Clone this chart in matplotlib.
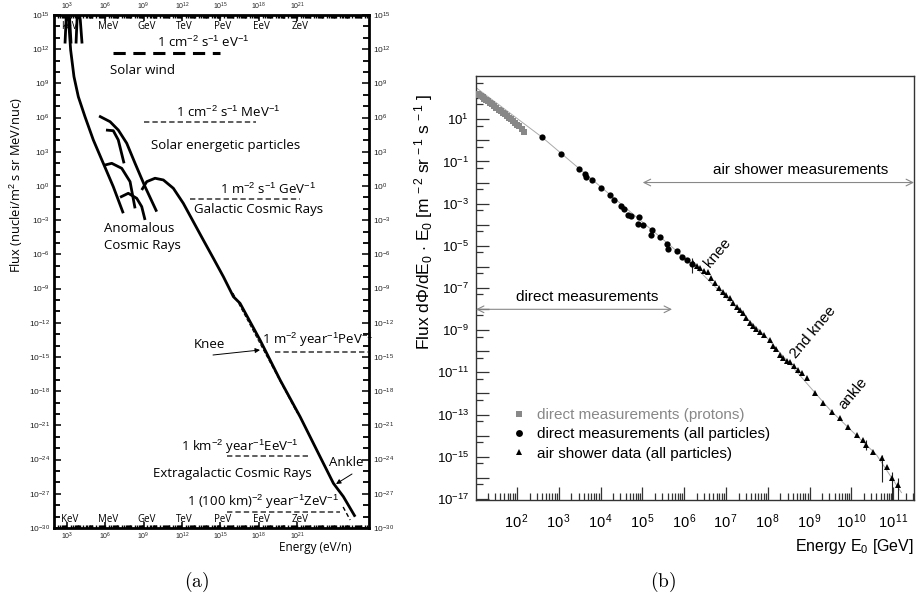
import numpy as np
import matplotlib.pyplot as plt
from matplotlib.ticker import FixedLocator, FuncFormatter, NullFormatter, LogLocator

plt.rcParams['font.family'] = ['Liberation Sans', 'DejaVu Sans']
plt.rcParams['mathtext.fontset'] = 'custom'
plt.rcParams['mathtext.rm'] = 'Liberation Sans'
plt.rcParams['mathtext.it'] = 'Liberation Sans:italic'
plt.rcParams['mathtext.bf'] = 'Liberation Sans:bold'

W, H = 918, 599

# ---------------- panel (a): log10 energy (eV/n) / log10 flux ----------------
main_lx = [3.12, 3.30, 3.56, 3.90, 4.42, 5.07, 5.85, 6.63, 7.41]
main_ly = [14.85, 11.93, 9.59, 7.83, 6.08, 4.04, 1.99, -0.06, -2.39]
spike1_lx = [2.86, 2.95, 3.09, 3.22, 3.33]
spike1_ly = [12.5, 14.7, 15.3, 14.7, 12.5]
spike2_lx = [3.72, 3.80, 3.90, 4.05, 4.19]
spike2_ly = [12.5, 14.6, 15.3, 14.6, 12.5]
sep1_lx = [5.52, 6.38, 7.02, 7.68, 8.33, 9.11, 10.02]
sep1_ly = [6.14, 5.64, 4.91, 3.75, 1.99, -0.06, -2.25]
sep2_lx = [6.06, 6.63, 7.02, 7.47]
sep2_ly = [4.91, 4.85, 4.04, 1.99]
acr1_lx = [5.98, 6.51, 7.29, 7.94, 8.33]
acr1_ly = [1.84, 1.99, 1.55, 0.38, -1.96]
acr2_lx = [7.16, 7.80, 8.46, 8.85, 9.11]
acr2_ly = [-0.99, -0.64, -1.08, -1.81, -2.98]
gcr_lx = [8.85, 9.24, 9.89, 10.54, 11.32, 12.10, 12.88, 13.66, 14.45, 15.23,
          16.01, 16.53, 18.09, 19.66, 21.22, 22.78, 23.82, 24.60, 25.52]
gcr_ly = [-0.35, 0.38, 0.68, 0.53, -0.20, -1.52, -3.13, -4.74, -6.35, -7.96,
          -9.71, -10.29, -13.51, -17.02, -20.24, -23.75, -26.08, -27.25, -29.01]
knee_ext_lx = [15.98, 20.98]
knee_ext_ly = [-9.39, -19.91]
ankle_ext_lx = [24.58, 25.13]
ankle_ext_ly = [-28.16, -29.3]

# reference flux levels: (lx start, lx end, ly)
ref_solar_wind = (6.61, 14.97, 11.67)
ref_sep = (9.03, 17.78, 5.61)
ref_gcr = (12.63, 21.22, -1.14)
ref_knee = (19.27, 26.53, -14.56)
ref_eev = (15.52, 22.0, -23.68)
ref_zev = (15.52, 24.34, -28.6)

unit_names = ['keV', 'MeV', 'GeV', 'TeV', 'PeV', 'EeV', 'ZeV']
unit_exps = [3, 6, 9, 12, 15, 18, 21]

# ---------------- panel (b): log10 E0 (GeV) / log10 flux*E0 ----------------
prot_lx = [1.07, 1.10, 1.14, 1.18, 1.22, 1.27, 1.31, 1.36, 1.41, 1.46, 1.51, 1.56,
           1.61, 1.66, 1.71, 1.76, 1.81, 1.86, 1.91, 1.96, 2.01, 2.06, 2.11, 2.17]
prot_ly = [2.18, 2.14, 2.10, 2.05, 1.98, 1.91, 1.85, 1.77, 1.70, 1.62, 1.55, 1.46,
           1.39, 1.31, 1.23, 1.15, 1.07, 0.99, 0.91, 0.83, 0.74, 0.66, 0.56, 0.40]
circ_lx = [2.59, 3.05, 3.48, 3.63, 3.65, 3.80, 4.01, 4.22, 4.32, 4.50, 4.56, 4.66,
           4.74, 4.92, 4.90, 5.02, 5.22, 5.21, 5.42, 5.60, 5.62, 5.82, 5.96, 6.06, 6.18]
circ_ly = [0.15, -0.64, -1.35, -1.58, -1.74, -1.87, -2.25, -2.61, -2.85, -3.09, -3.24, -3.56,
           -3.61, -3.64, -3.95, -4.03, -4.27, -4.51, -4.59, -4.90, -5.14, -5.25, -5.54, -5.69, -5.85]
tri_lx = [6.21, 6.30, 6.38, 6.47, 6.57, 6.65, 6.74, 6.83, 6.93, 7.01, 7.10, 7.18, 7.26,
          7.33, 7.41, 7.49, 7.57, 7.65, 7.72, 7.81, 7.90, 8.05, 8.12, 8.20, 8.29, 8.36,
          8.45, 8.53, 8.62, 8.72, 8.82, 8.94, 9.13, 9.32, 9.54, 9.73, 9.92, 10.13, 10.28,
          10.35, 10.52, 10.73, 10.85, 10.97, 11.11]
tri_ly = [-5.83, -5.98, -6.07, -6.18, -6.26, -6.52, -6.78, -6.98, -7.21, -7.33, -7.49, -7.70, -7.92,
          -8.02, -8.20, -8.40, -8.68, -8.80, -8.92, -9.10, -9.22, -9.48, -9.75, -9.90, -10.19, -10.30,
          -10.45, -10.53, -10.70, -10.91, -11.05, -11.28, -11.99, -12.47, -12.90, -13.18, -13.61, -13.99, -14.22,
          -14.46, -14.79, -15.08, -15.50, -16.02, -16.36]
# error bars (lx, ly low, ly high)
err_lx = [6.20, 10.35, 10.73, 10.97, 11.11]
err_lo = [-6.3, -14.7, -16.2, -17.1, -17.1]
err_hi = [-5.6, -14.2, -14.9, -15.7, -16.0]
fit_lx = [1.02, 2.6, 6.2, 8.0, 9.5, 10.6, 11.2]
fit_ly = [2.5, 0.15, -5.88, -9.4, -12.8, -14.9, -16.7]


def p10(v):
    return 10.0 ** np.asarray(v, dtype=float)


fig = plt.figure(figsize=(W / 100, H / 100), dpi=100)


def fx(px):
    return px / W


def fy(py):
    return 1 - py / H


# ================= panel (a) =================
ax_a = fig.add_axes([fx(54), fy(528), (369 - 54) / W, (528 - 15) / H])
ax_a.set_xscale('log')
ax_a.set_yscale('log')
ax_a.set_xlim(1e2, 10 ** 26.6)
ax_a.set_ylim(1e-30, 1e15)

lw_c = 2.0
for lx, ly in [(main_lx, main_ly), (spike1_lx, spike1_ly), (spike2_lx, spike2_ly),
               (sep1_lx, sep1_ly), (sep2_lx, sep2_ly), (acr1_lx, acr1_ly),
               (acr2_lx, acr2_ly), (gcr_lx, gcr_ly)]:
    ax_a.plot(p10(lx), p10(ly), color='black', lw=lw_c, solid_capstyle='butt')
ax_a.plot(p10(knee_ext_lx), p10(knee_ext_ly), color='black', lw=0.7, ls=(0, (4, 2)))
ax_a.plot(p10(ankle_ext_lx), p10(ankle_ext_ly), color='black', lw=1.0, ls=(0, (3, 2)))

x0, x1, yv = ref_solar_wind
ax_a.plot(p10([x0, x1]), p10([yv, yv]), color='black', lw=2.2, ls=(0, (4, 2.5)))
for x0, x1, yv in [ref_sep, ref_gcr, ref_knee, ref_eev, ref_zev]:
    ax_a.plot(p10([x0, x1]), p10([yv, yv]), color='#333333', lw=1.1, ls=(0, (3.5, 2)))

for s in ax_a.spines.values():
    s.set_linewidth(2)
ax_a.xaxis.set_major_locator(FixedLocator(p10(unit_exps)))
ax_a.xaxis.set_minor_locator(LogLocator(base=10, subs=np.arange(1, 10), numticks=60))
ax_a.xaxis.set_minor_formatter(NullFormatter())
ax_a.xaxis.set_major_formatter(FuncFormatter(lambda v, p: r'$10^{%d}$' % round(np.log10(v))))
ax_a.yaxis.set_major_locator(FixedLocator([10.0 ** k for k in range(-30, 16, 3)]))
ax_a.yaxis.set_minor_locator(FixedLocator([10.0 ** k for k in range(-30, 16)]))
ax_a.yaxis.set_minor_formatter(NullFormatter())
ax_a.yaxis.set_major_formatter(FuncFormatter(lambda v, p: r'$10^{%d}$' % round(np.log10(v))))
ax_a.tick_params(axis='both', which='both', direction='in', top=True, right=True,
                 labeltop=True, labelright=True, width=1.3)
ax_a.tick_params(axis='y', which='major', length=5, labelsize=6, pad=3, colors='#222222')
ax_a.tick_params(axis='y', which='minor', length=4)
ax_a.tick_params(axis='x', which='major', length=4, labelsize=5, pad=2, colors='#222222')
ax_a.tick_params(axis='x', which='minor', length=2.5, width=1.0)

ffa = ['Open Sans', 'DejaVu Sans']
trans_top = ax_a.get_xaxis_transform()
for name, e in zip(unit_names, unit_exps):
    ax_a.text(10 ** (e + 0.2), 0.988, name, transform=trans_top, ha='center', va='top',
              fontsize=7, family=ffa)
    ax_a.text(10 ** (e + 0.2), 0.005, name.replace('keV', 'KeV'), transform=trans_top,
              ha='center', va='bottom', fontsize=7, family=ffa)


def ta(px, py, s, size=9.5, **kw):
    fig.text(fx(px), fy(py), s, fontsize=size, family=ffa, ha=kw.pop('ha', 'center'),
             va=kw.pop('va', 'center'), **kw)


ta(203, 42, r'1 cm$^{-2}$ s$^{-1}$ eV$^{-1}$')
ta(143, 71, 'Solar wind')
ta(228, 112, r'1 cm$^{-2}$ s$^{-1}$ MeV$^{-1}$')
ta(226, 145, 'Solar energetic particles')
ta(268, 189, r'1 m$^{-2}$ s$^{-1}$ GeV$^{-1}$')
ta(259, 210, 'Galactic Cosmic Rays')
ta(104, 228, 'Anomalous', ha='left')
ta(104, 246, 'Cosmic Rays', ha='left')
ta(209, 345, 'Knee')
ta(318, 340, r'1 m$^{-2}$ year$^{-1}$PeV$^{-1}$')
ta(240, 447, r'1 km$^{-2}$ year$^{-1}$EeV$^{-1}$')
ta(232, 473, 'Extragalactic Cosmic Rays')
ta(346, 462, 'Ankle')
ta(263, 502, r'1 (100 km)$^{-2}$ year$^{-1}$ZeV$^{-1}$')
ta(315, 547, 'Energy (eV/n)', 8.5)
ta(16, 185, r'Flux (nuclei/m$^{2}$ s sr MeV/nuc)', 9.3, rotation=90)

ax_a.annotate('', xy=(fx(260), fy(350)), xytext=(fx(213), fy(355)),
              xycoords='figure fraction', textcoords='figure fraction',
              arrowprops=dict(arrowstyle='-|>', color='black', lw=0.7, mutation_scale=7,
                              shrinkA=0, shrinkB=0))
ax_a.annotate('', xy=(fx(336), fy(484)), xytext=(fx(352), fy(474)),
              xycoords='figure fraction', textcoords='figure fraction',
              arrowprops=dict(arrowstyle='-|>', color='black', lw=0.7, mutation_scale=7,
                              shrinkA=0, shrinkB=0))

# ================= panel (b) =================
ax_b = fig.add_axes([fx(476), fy(500), (914 - 476) / W, (500 - 76) / H])
ax_b.set_xscale('log')
ax_b.set_yscale('log')
ax_b.set_xlim(10 ** 1.02, 10 ** 11.5)
ax_b.set_ylim(10 ** -17.05, 10 ** 3.05)

ax_b.plot(p10(fit_lx), p10(fit_ly), color='#aaaaaa', lw=0.7, zorder=1)
ax_b.vlines(p10(err_lx), p10(err_lo), p10(err_hi), color='#222222', lw=0.8, zorder=2)
h1, = ax_b.plot(p10(prot_lx), p10(prot_ly), 's', color='#888888', ms=4.2, mew=0, zorder=3,
                label='direct measurements (protons)')
h2, = ax_b.plot(p10(circ_lx), p10(circ_ly), 'o', color='black', ms=4.5, mew=0, zorder=3,
                label='direct measurements (all particles)')
h3, = ax_b.plot(p10(tri_lx), p10(tri_ly), '^', color='black', ms=4.5, mew=0, zorder=3,
                label='air shower data (all particles)')

for s in ax_b.spines.values():
    s.set_linewidth(1.0)
    s.set_color('#333333')
ax_b.yaxis.set_major_locator(FixedLocator([10.0 ** k for k in range(-17, 3)]))
ax_b.yaxis.set_minor_locator(FixedLocator([5 * 10.0 ** k for k in range(-18, 3)]))
ax_b.yaxis.set_major_formatter(FuncFormatter(
    lambda v, p: (r'$10^{%d}$' % round(np.log10(v))) if round(np.log10(v)) % 2 else ''))
ax_b.yaxis.set_minor_formatter(NullFormatter())
ax_b.xaxis.set_major_locator(FixedLocator([10.0 ** k for k in range(1, 12)]))
ax_b.xaxis.set_minor_locator(LogLocator(base=10, subs=np.arange(2, 10), numticks=40))
ax_b.xaxis.set_minor_formatter(NullFormatter())
ax_b.xaxis.set_major_formatter(FuncFormatter(
    lambda v, p: (r'$10^{\,%d}$' % round(np.log10(v))) if round(np.log10(v)) > 1 else ''))
ax_b.tick_params(axis='both', which='both', direction='in', color='#333333', width=0.9,
                 top=False, right=False)
ax_b.tick_params(axis='y', which='major', length=9.4, pad=5, labelsize=9.5)
ax_b.tick_params(axis='x', which='major', length=9.4, pad=9, labelsize=10.5)
ax_b.tick_params(axis='both', which='minor', length=5)

arrow_kw = dict(arrowstyle='<->', color='#888888', lw=0.8, shrinkA=0, shrinkB=0,
                mutation_scale=12)
ax_b.annotate('', xy=(10 ** 11.5, 10 ** -2.0), xytext=(10 ** 5.01, 10 ** -2.0),
              arrowprops=arrow_kw, annotation_clip=False)
ax_b.annotate('', xy=(10 ** 5.71, 10 ** -8.01), xytext=(10 ** 1.02, 10 ** -8.01),
              arrowprops=arrow_kw, annotation_clip=False)


def tb(px, py, s, size=11, **kw):
    fig.text(fx(px), fy(py), s, fontsize=size, ha=kw.pop('ha', 'center'),
             va=kw.pop('va', 'center'), **kw)


tb(801, 170, 'air shower measurements')
tb(587, 297, 'direct measurements')
tb(718, 253, 'knee', rotation=50)
tb(813, 332, '2nd knee', rotation=50)
tb(853, 393, 'ankle', rotation=50)
tb(914, 546, r'Energy E$_0$ [GeV]', 11.5, ha='right')
tb(424, 222, r'Flux d$\Phi$/dE$_0$ $\cdot$ E$_0$ [m$^{\,-2}$ sr$^{\,-1}$ s$^{\,-1}$ ]',
   12.5, rotation=90)

leg = ax_b.legend(handles=[h1, h2, h3], loc='upper left', frameon=False, fontsize=11,
                  bbox_to_anchor=(fx(511), fy(408)), bbox_transform=fig.transFigure,
                  borderpad=0, borderaxespad=0, handlelength=1.0, handletextpad=0.7,
                  labelspacing=0.35, markerscale=1.1)
leg.get_texts()[0].set_color('#888888')

fig.text(fx(197), fy(582), r'$\mathrm{(a)}$', fontsize=14, math_fontfamily='cm',
         ha='center', va='center')
fig.text(fx(663), fy(582), r'$\mathrm{(b)}$', fontsize=14, math_fontfamily='cm',
         ha='center', va='center')

fig.savefig('out.png', dpi=100)
